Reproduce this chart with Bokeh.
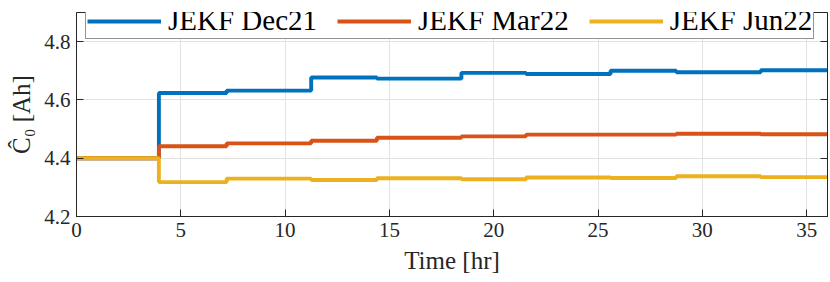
from bokeh.plotting import figure
from bokeh.models import Legend, LegendItem, LinearAxis, FixedTicker, Range1d
from bokeh.embed import file_html
from bokeh.resources import INLINE

# Data
t = [0, 3.95, 7.2, 11.25, 14.4, 18.45, 21.55, 25.6, 28.75, 32.8, 36]
dec21 = [4.4, 4.624, 4.632, 4.677, 4.673, 4.693, 4.689, 4.700, 4.695, 4.702, 4.702]
mar22 = [4.4, 4.441, 4.451, 4.460, 4.470, 4.475, 4.481, 4.481, 4.484, 4.482, 4.482]
jun22 = [4.4, 4.318, 4.330, 4.325, 4.331, 4.328, 4.334, 4.332, 4.338, 4.335, 4.335]
labels = ["JEKF Dec21", "JEKF Mar22", "JEKF Jun22"]
colors = ["#0072BD", "#D95319", "#EDB120"]
x_ticks = [0, 5, 10, 15, 20, 25, 30, 35]
y_ticks = [4.2, 4.4, 4.6, 4.8]

FONT = "Liberation Serif"
AX = "#262626"

p = figure(width=830, height=282, output_backend="svg", toolbar_location=None,
           x_range=Range1d(0, 36), y_range=Range1d(4.2, 4.9),
           min_border_left=76, min_border_right=3, min_border_top=12, min_border_bottom=66)
p.outline_line_color = AX
p.outline_line_width = 1
p.background_fill_color = "white"
p.border_fill_color = "white"

renderers = []
for ys, c in zip([dec21, mar22, jun22], colors):
    r = p.step(t, ys, mode="after", line_color=c, line_width=3.9)
    renderers.append(r)

for ax in [p.xaxis[0], p.yaxis[0]]:
    ax.axis_line_color = AX
    ax.major_tick_line_color = AX
    ax.major_tick_in = 7
    ax.major_tick_out = 0
    ax.minor_tick_line_color = None
    ax.major_label_text_font = FONT
    ax.major_label_text_font_size = "21px"
    ax.major_label_text_color = AX
    ax.axis_label_text_font = FONT
    ax.axis_label_text_font_size = "25px"
    ax.axis_label_text_font_style = "normal"
    ax.axis_label_text_color = AX

p.xaxis[0].ticker = FixedTicker(ticks=x_ticks)
p.yaxis[0].ticker = FixedTicker(ticks=y_ticks)
p.xaxis[0].axis_label = "Time [hr]"
p.yaxis[0].axis_label = "Ĉ₀ [Ah]"
p.xaxis[0].major_label_standoff = 6
p.xaxis[0].axis_label_standoff = 7
p.yaxis[0].major_label_standoff = 6
p.yaxis[0].axis_label_standoff = 6

rax = LinearAxis(ticker=FixedTicker(ticks=y_ticks), major_tick_in=7, major_tick_out=0,
                 major_label_overrides={v: "" for v in y_ticks},
                 major_label_text_color=None, major_label_standoff=0,
                 axis_line_color=AX, major_tick_line_color=AX,
                 minor_tick_line_color=None)
p.add_layout(rax, "right")

p.xgrid.ticker = FixedTicker(ticks=x_ticks)
p.ygrid.ticker = FixedTicker(ticks=y_ticks)
p.xgrid.grid_line_color = "#e2e2e2"
p.ygrid.grid_line_color = "#e2e2e2"

legend = Legend(items=[LegendItem(label=l, renderers=[r]) for l, r in zip(labels, renderers)],
                orientation="horizontal", location=(9, 177),
                label_text_font=FONT, label_text_font_size="29px", label_text_color="black",
                glyph_width=74, glyph_height=28, label_standoff=7, spacing=20,
                padding=1, margin=0, border_line_color=AX, border_line_width=1,
                background_fill_alpha=1.0, label_height=28)
p.add_layout(legend, "center")

open("out.html", "w").write(file_html(p, INLINE))
